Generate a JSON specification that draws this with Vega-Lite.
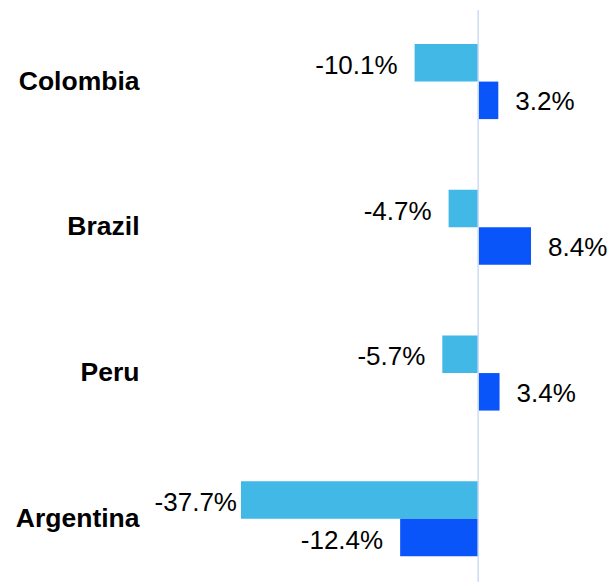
{
  "$schema": "https://vega.github.io/schema/vega-lite/v6.json",
  "width": 453,
  "height": 572,
  "autosize": "none",
  "padding": {"left": 151, "top": 10, "right": 5, "bottom": 4},
  "background": "white",
  "config": {"view": {"stroke": null}, "font": "Liberation Sans"},
  "data": {
    "values": [
      {"country": "Colombia", "series": "A", "value": -10.1},
      {"country": "Colombia", "series": "B", "value": 3.2},
      {"country": "Brazil", "series": "A", "value": -4.7},
      {"country": "Brazil", "series": "B", "value": 8.4},
      {"country": "Peru", "series": "A", "value": -5.7},
      {"country": "Peru", "series": "B", "value": 3.4},
      {"country": "Argentina", "series": "A", "value": -37.7},
      {"country": "Argentina", "series": "B", "value": -12.4}
    ]
  },
  "transform": [
    {"calculate": "(datum.value < 0 ? '-' : '') + format(abs(datum.value), '.1f') + '%'", "as": "label"}
  ],
  "encoding": {
    "y": {
      "field": "country",
      "type": "nominal",
      "sort": ["Colombia", "Brazil", "Peru", "Argentina"],
      "scale": {"paddingInner": 0.485, "paddingOuter": 0.205, "align": 0.57},
      "axis": {
        "title": null,
        "domain": false,
        "ticks": false,
        "labelFontSize": 26.5,
        "labelFontWeight": "bold",
        "labelColor": "#000000",
        "labelPadding": 12,
        "labelFont": "Liberation Sans"
      }
    },
    "yOffset": {
      "field": "series",
      "type": "nominal",
      "sort": ["A", "B"],
      "scale": {"paddingInner": 0, "paddingOuter": 0}
    },
    "x": {
      "field": "value",
      "type": "quantitative",
      "scale": {"domain": [-52, 20], "nice": false, "zero": false},
      "axis": null
    }
  },
  "layer": [
    {
      "mark": {"type": "bar"},
      "encoding": {
        "x2": {"datum": 0},
        "color": {
          "field": "series",
          "type": "nominal",
          "scale": {"domain": ["A", "B"], "range": ["#41B8E6", "#0A55FA"]},
          "legend": null
        }
      }
    },
    {
      "mark": {"type": "rule", "color": "#CDDCF5", "strokeWidth": 1.5},
      "data": {"values": [{"zero": 0}]},
      "encoding": {
        "x": {"field": "zero", "type": "quantitative"},
        "y": null,
        "yOffset": null
      }
    },
    {
      "transform": [{"filter": "datum.value < 0"}],
      "mark": {
        "type": "text",
        "align": "right",
        "baseline": "middle",
        "dx": {"expr": "datum.value < -30 ? -4 : -17"},
        "dy": 3,
        "fontSize": 26,
        "color": "#000000",
        "font": "Liberation Sans"
      },
      "encoding": {
        "text": {"field": "label", "type": "nominal"}
      }
    },
    {
      "transform": [{"filter": "datum.value >= 0"}],
      "mark": {
        "type": "text",
        "align": "left",
        "baseline": "middle",
        "dx": 17,
        "dy": 2,
        "fontSize": 26,
        "color": "#000000",
        "font": "Liberation Sans"
      },
      "encoding": {
        "text": {"field": "label", "type": "nominal"}
      }
    }
  ]
}
